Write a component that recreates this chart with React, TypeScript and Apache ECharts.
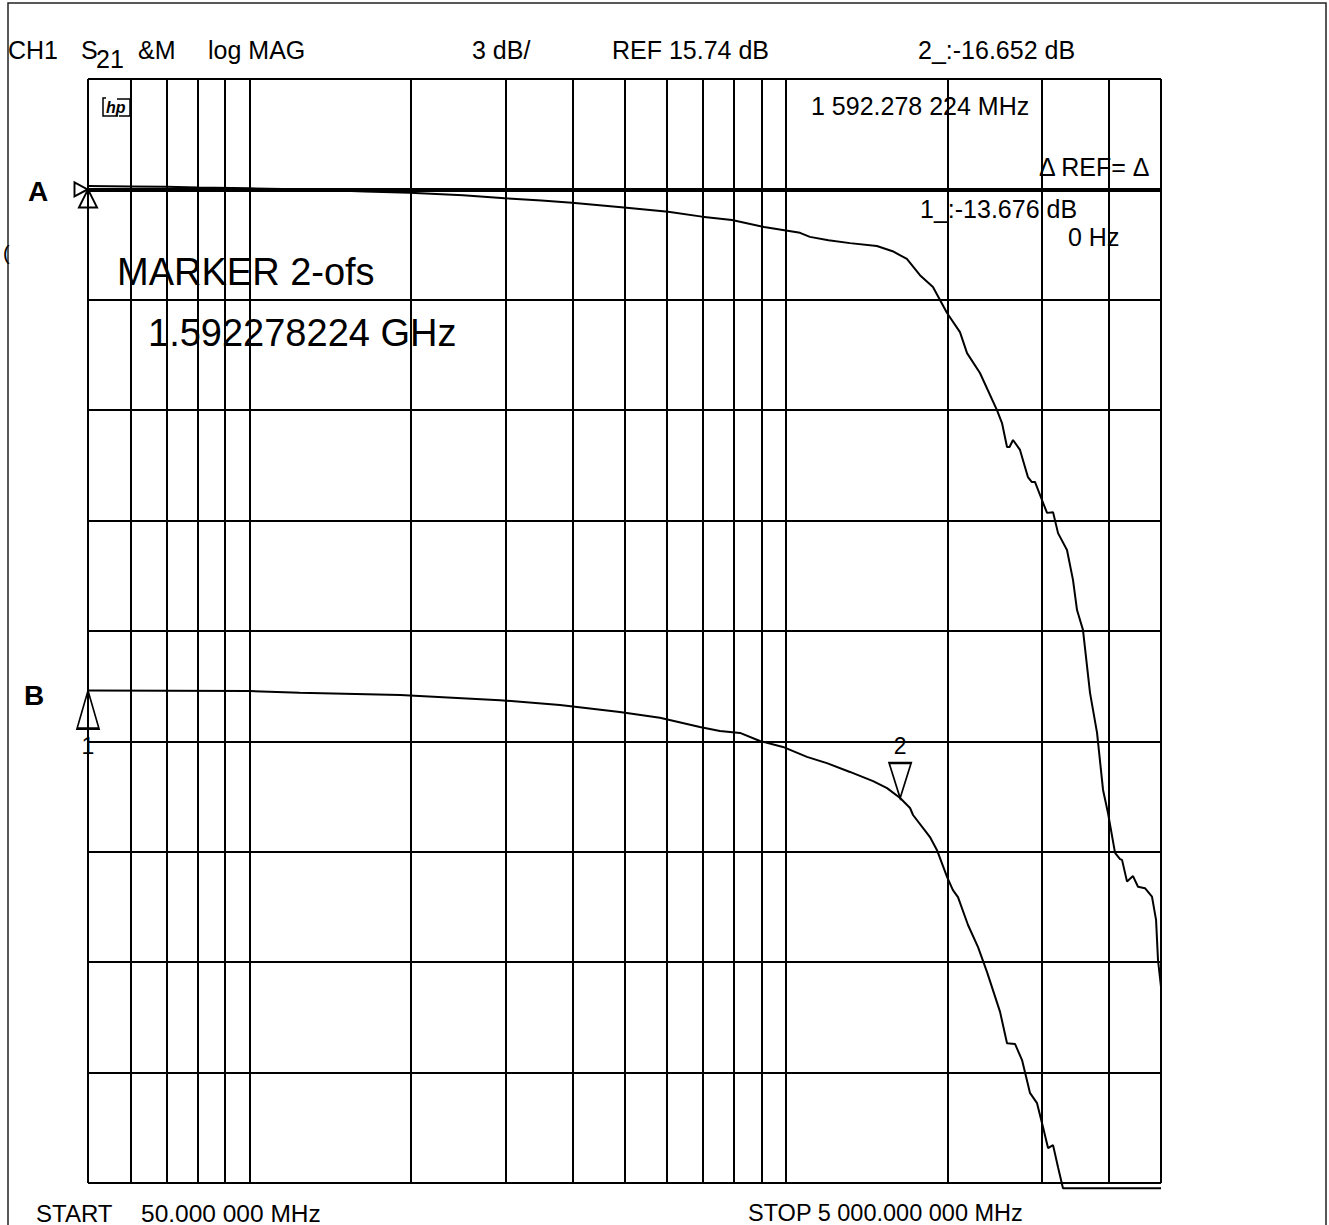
import React, { useEffect, useRef } from "react";
import * as echarts from "echarts";

// Vertical graticule positions (MHz, log frequency axis)
const gridFreqs = [50, 60, 70, 80, 90, 100, 200, 300, 400, 500, 600, 700, 800, 900, 1000, 2000, 3000, 4000, 5000];

// Trace A (upper trace) – frequency in MHz, level in dB
const freqA = [50, 60, 70, 80, 100, 130, 164, 199, 250, 299, 350, 399, 499, 603, 697, 793, 910, 1062, 1108, 1200, 1316, 1477, 1580, 1680, 1777, 1879, 1996, 2110, 2175, 2299, 2473, 2527, 2582, 2610, 2649, 2730, 2825, 2870, 2911, 3000, 3066, 3146, 3214, 3340, 3427, 3487, 3577, 3687, 3800, 3899, 3983, 4105, 4194, 4230, 4322, 4434, 4530, 4668, 4810, 4895, 4936, 5000];
const dbA = [0.09, 0.08, 0.07, 0.05, 0.03, 0.0, -0.06, -0.09, -0.16, -0.24, -0.3, -0.36, -0.49, -0.61, -0.74, -0.83, -1.02, -1.18, -1.29, -1.38, -1.46, -1.54, -1.68, -1.89, -2.33, -2.65, -3.36, -3.88, -4.45, -4.99, -6.0, -6.35, -7.0, -7.0, -6.81, -7.08, -7.82, -7.95, -7.95, -8.44, -8.79, -8.77, -9.34, -9.8, -10.61, -11.43, -11.97, -13.68, -14.77, -16.32, -16.95, -18.03, -18.2, -18.22, -18.81, -18.66, -18.95, -18.99, -19.22, -19.85, -20.94, -21.67];

// Trace B (lower trace)
const freqB = [50, 100, 124, 191, 293, 379, 490, 582, 691, 753, 821, 894, 987, 1094, 1192, 1316, 1453, 1543, 1632, 1703, 1725, 1831, 1855, 1911, 1996, 2047, 2092, 2184, 2280, 2370, 2506, 2582, 2672, 2754, 2849, 2937, 3013, 3079, 3146, 3214, 3283, 5000];
const dbB = [-13.62, -13.63, -13.68, -13.74, -13.88, -14.01, -14.2, -14.36, -14.61, -14.72, -14.77, -14.99, -15.15, -15.42, -15.59, -15.83, -16.08, -16.27, -16.54, -16.81, -17.0, -17.49, -17.6, -17.95, -18.68, -19.04, -19.23, -19.99, -20.59, -21.27, -22.35, -23.2, -23.22, -23.66, -24.55, -24.83, -25.48, -26.05, -25.97, -26.57, -27.14, -27.14];

// Scale: 3 dB / division, 10 divisions
const yMin = -27;
const yMax = 3;
const yStep = 3;
const refLineDb = 0;

// Marker positions on the traces
const refMarkerA = [50, 0];
const marker1 = [50, -13.62];
const marker2 = [1632, -16.54];

// Annotation texts
const headerTexts = ["CH1", "S", "21", "&M", "log MAG", "3 dB/", "REF 15.74 dB", "2_:-16.652 dB"];
const markerFreqText = "1 592.278 224 MHz";
const deltaRefText = "\u0394 REF= \u0394";
const marker1Text = "1_:-13.676 dB";
const marker1FreqText = "0 Hz";
const bigTexts = ["MARKER 2-ofs", "1.592278224 GHz"];
const startText = ["START", "50.000 000 MHz"];
const stopText = "STOP 5 000.000 000 MHz";

const FONT = '"Liberation Sans", Arial, sans-serif';

function txt(text: string, x: number, y: number, size: number, extra: any = {}) {
  return {
    type: "text",
    x,
    y,
    style: {
      text,
      font: `${extra.weight || "normal"} ${size}px ${FONT}`,
      fill: "#000",
      verticalAlign: "middle",
      align: extra.align || "left",
    },
    scaleX: extra.scaleX || 1,
    z: 10,
  };
}

export default function App() {
  const ref = useRef<HTMLDivElement>(null);

  useEffect(() => {
    if (!ref.current) return;
    const chart = echarts.init(ref.current, undefined, { renderer: "svg" });

    const dataA = freqA.map((f, i) => [f, dbA[i]]);
    const dataB = freqB.map((f, i) => [f, dbB[i]]);

    const sm = 25;
    const graphic: any[] = [
      {
        type: "rect",
        shape: { x: 8, y: 3, width: 1318, height: 1260 },
        style: { fill: "none", stroke: "#222", lineWidth: 1.5 },
        z: 1,
      },
      txt(headerTexts[0], 8, 50, sm),
      txt(headerTexts[1], 81, 50, sm),
      txt(headerTexts[2], 96, 59, sm),
      txt(headerTexts[3], 138, 50, sm),
      txt(headerTexts[4], 208, 50, sm),
      txt(headerTexts[5], 472, 50, sm),
      txt(headerTexts[6], 612, 50, sm),
      txt(headerTexts[7], 918, 50, sm),
      txt(markerFreqText, 811, 106, sm),
      txt(deltaRefText, 1039, 167, sm),
      txt(marker1Text, 920, 209, sm),
      txt(marker1FreqText, 1068, 237, sm),
      txt("A", 28, 191, 28, { weight: "bold" }),
      txt("B", 24, 695, 28, { weight: "bold" }),
      txt("(", 3, 253, 20),
      txt(bigTexts[0], 117, 272, 38),
      txt(bigTexts[1], 148, 333, 38),
      txt(startText[0], 36, 1213, 24),
      txt(startText[1], 141, 1213, 24.5),
      txt(stopText, 748, 1213, 23.5),
      // hp logo
      {
        type: "group",
        z: 10,
        children: [
          {
            type: "text",
            x: 106,
            y: 107,
            style: {
              text: "hp",
              font: `italic bold 16px ${FONT}`,
              fill: "#000",
              verticalAlign: "middle",
            },
          },
          {
            type: "polyline",
            shape: { points: [[106, 98], [103, 98], [103, 116], [118, 116]] },
            style: { stroke: "#000", lineWidth: 1.5, fill: "none" },
          },
          {
            type: "polyline",
            shape: { points: [[117, 99], [130, 99], [130, 116], [119, 116]] },
            style: { stroke: "#000", lineWidth: 1.5, fill: "none" },
          },
        ],
      },
    ];

    const markStyle = { color: "rgba(0,0,0,0)", borderColor: "#000", borderWidth: 2 };

    chart.setOption({
      animation: false,
      backgroundColor: "#fff",
      grid: { left: 88, right: 168, top: 79, bottom: 42, containLabel: false },
      xAxis: {
        type: "log",
        logBase: 10,
        min: gridFreqs[0],
        max: gridFreqs[gridFreqs.length - 1],
        axisLine: { show: false },
        axisTick: { show: false },
        axisLabel: { show: false },
        splitLine: { show: false },
      },
      yAxis: {
        type: "value",
        min: yMin,
        max: yMax,
        interval: yStep,
        axisLine: { show: false },
        axisTick: { show: false },
        axisLabel: { show: false },
        splitLine: { show: true, lineStyle: { color: "#000", width: 2 } },
      },
      graphic,
      series: [
        {
          type: "line",
          name: "A",
          data: dataA,
          showSymbol: false,
          clip: false,
          lineStyle: { color: "#000", width: 2 },
          z: 5,
          markLine: {
            silent: true,
            symbol: "none",
            label: { show: false },
            animation: false,
            lineStyle: { color: "#000", width: 2, type: "solid" },
            data: [
              ...gridFreqs.map((f) => ({ xAxis: f })),
              { yAxis: refLineDb, lineStyle: { color: "#000", width: 4, type: "solid" } },
            ],
          },
          markPoint: {
            silent: true,
            animation: false,
            data: [
              {
                coord: refMarkerA,
                symbol: "path://M0 0L3 1.6L0 3.2Z",
                symbolSize: [13, 14],
                symbolOffset: [-7, 0],
                itemStyle: markStyle,
                label: { show: false },
              },
              {
                coord: refMarkerA,
                symbol: "triangle",
                symbolSize: [18, 18],
                symbolOffset: [0, 9],
                itemStyle: markStyle,
                label: { show: false },
              },
            ],
          },
        },
        {
          type: "line",
          name: "B",
          data: dataB,
          showSymbol: false,
          clip: false,
          lineStyle: { color: "#000", width: 2 },
          z: 5,
          markPoint: {
            silent: true,
            animation: false,
            data: [
              {
                coord: marker1,
                symbol: "triangle",
                symbolSize: [22, 38],
                symbolOffset: [0, 19],
                itemStyle: markStyle,
                label: {
                  show: true,
                  formatter: "1",
                  position: "bottom",
                  distance: 5,
                  color: "#000",
                  fontSize: 23,
                  fontFamily: FONT,
                },
              },
              {
                coord: marker2,
                symbol: "path://M0 0L2 0L1 3Z",
                symbolSize: [22, 35],
                symbolOffset: [0, -17.5],
                itemStyle: markStyle,
                label: {
                  show: true,
                  formatter: "2",
                  position: "top",
                  distance: 4,
                  color: "#000",
                  fontSize: 23,
                  fontFamily: FONT,
                },
              },
            ],
          },
        },
      ],
    });

    return () => chart.dispose();
  }, []);

  return (
    <div
      ref={ref}
      style={{ position: "absolute", left: 0, top: 0, width: 1329, height: 1225 }}
    />
  );
}
